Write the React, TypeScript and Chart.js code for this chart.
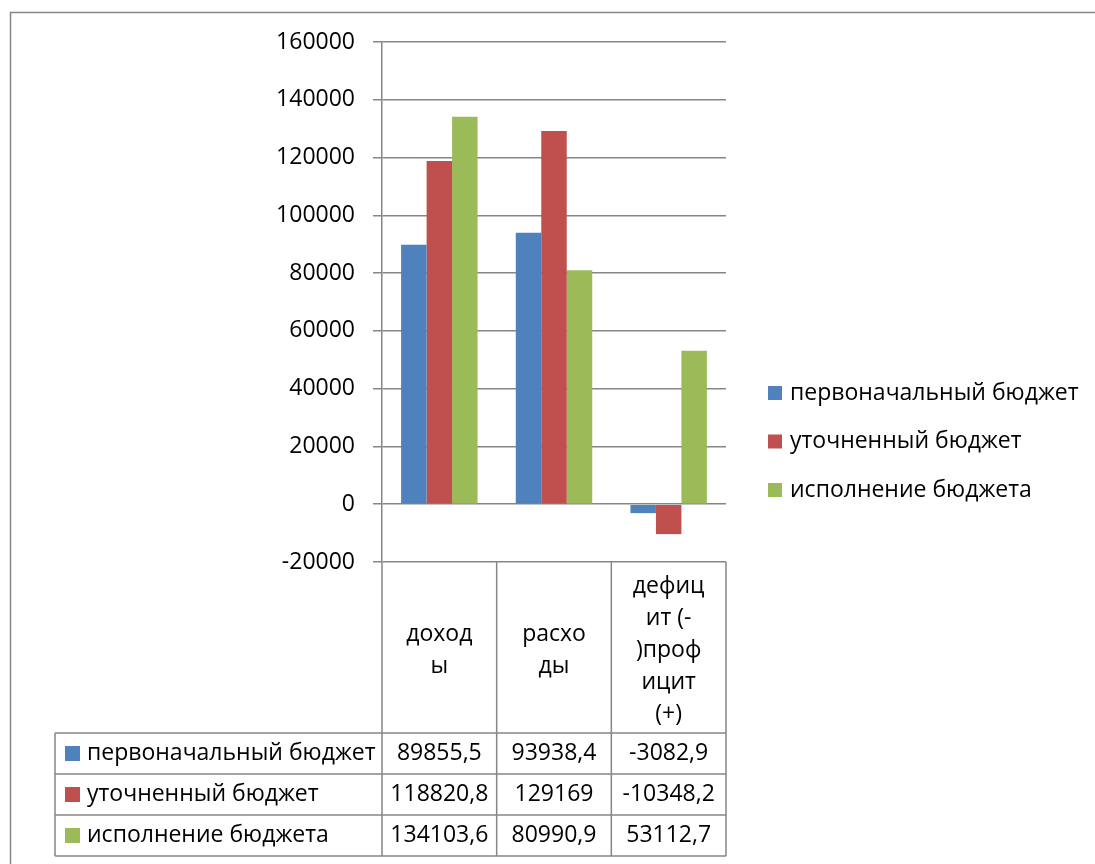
import React, { useEffect, useRef } from "react";
import { Chart, registerables } from "chart.js";

Chart.register(...registerables);

const categories = ["доходы", "расходы", "дефицит (-)профицит (+)"];
const categoryHeaderLines = [["доход", "ы"], ["расхо", "ды"], ["дефиц", "ит (-", ")проф", "ицит", "(+)"]];
const seriesNames = ["первоначальный бюджет", "уточненный бюджет", "исполнение бюджета"];
const initialBudget = [89855.5, 93938.4, -3082.9];
const revisedBudget = [118820.8, 129169, -10348.2];
const executedBudget = [134103.6, 80990.9, 53112.7];
const seriesColors = ["#4F81BD", "#C0504D", "#9BBB59"];
const yMin = -20000;
const yMax = 160000;
const yStep = 20000;

const FONT = "Open Sans";
const FS = 23;
const LINE = "#868686";

const fmt = (v: number) => String(v).replace(".", ",");

const tablePlugin = {
  id: "dataTable",
  afterDraw(chart: any) {
    const ctx = chart.ctx as CanvasRenderingContext2D;
    const area = chart.chartArea;
    const x = chart.scales.x;
    const n = categories.length;
    const colW = (area.right - area.left) / n;
    const headerTop = area.bottom;
    const rowTop = 733;
    const rowH = 41;
    const tableBottom = rowTop + rowH * seriesNames.length;
    const labelLeft = 55;
    ctx.save();
    // outer frame
    ctx.strokeStyle = LINE;
    ctx.lineWidth = 1.5;
    ctx.beginPath();
    ctx.moveTo(10.5, 900);
    ctx.lineTo(10.5, 12.5);
    ctx.lineTo(1100, 12.5);
    ctx.stroke();
    // table lines
    ctx.beginPath();
    for (let i = 0; i <= n; i++) {
      const lx = area.left + i * colW;
      ctx.moveTo(lx, headerTop);
      ctx.lineTo(lx, tableBottom);
    }
    ctx.moveTo(labelLeft, rowTop);
    ctx.lineTo(labelLeft, tableBottom);
    for (let r = 0; r <= seriesNames.length; r++) {
      const ly = rowTop + r * rowH;
      ctx.moveTo(labelLeft, ly);
      ctx.lineTo(area.right, ly);
    }
    ctx.stroke();
    // header text
    ctx.fillStyle = "#000";
    ctx.font = `${FS}px "${FONT}"`;
    ctx.textAlign = "center";
    ctx.textBaseline = "middle";
    const hMid = (headerTop + rowTop) / 2 + 3;
    const lh = 32;
    categoryHeaderLines.forEach((lines, i) => {
      const cx = x.getPixelForValue(i);
      const start = hMid - ((lines.length - 1) * lh) / 2;
      lines.forEach((t, j) => ctx.fillText(t, cx, start + j * lh));
    });
    // rows
    const allData = [initialBudget, revisedBudget, executedBudget];
    seriesNames.forEach((name, r) => {
      const cy = rowTop + r * rowH + rowH / 2;
      ctx.fillStyle = seriesColors[r];
      ctx.fillRect(65, cy - 7.5, 15, 15);
      ctx.fillStyle = "#000";
      ctx.textAlign = "left";
      ctx.fillText(name, 87, cy);
      ctx.textAlign = "center";
      allData[r].forEach((v, i) => {
        ctx.fillText(fmt(v), x.getPixelForValue(i), cy);
      });
    });
    // legend
    const legY = [393, 441.5, 490];
    seriesNames.forEach((name, r) => {
      ctx.fillStyle = seriesColors[r];
      ctx.fillRect(768, legY[r] - 7, 14, 14);
      ctx.fillStyle = "#000";
      ctx.textAlign = "left";
      ctx.fillText(name, 790, legY[r]);
    });
    ctx.restore();
  },
};

export default function App() {
  const ref = useRef<HTMLCanvasElement>(null);
  useEffect(() => {
    if (!ref.current) return;
    const chart = new Chart(ref.current, {
      type: "bar",
      data: {
        labels: categories,
        datasets: [initialBudget, revisedBudget, executedBudget].map((d, i) => ({
          label: seriesNames[i],
          data: d,
          backgroundColor: seriesColors[i],
          borderWidth: 0,
          barPercentage: 1,
          categoryPercentage: 3 / 4.5,
        })),
      },
      options: {
        animation: false,
        responsive: false,
        devicePixelRatio: 1,
        layout: { padding: { left: 262, top: 42, right: 1095 - 726, bottom: 864 - 562 } },
        plugins: { legend: { display: false }, tooltip: { enabled: false } },
        scales: {
          x: { display: false },
          y: {
            min: yMin,
            max: yMax,
            afterFit: (s: any) => {
              s.width = 120;
            },
            ticks: {
              stepSize: yStep,
              color: "#000",
              font: { family: FONT, size: FS },
              padding: 18,
              callback: (v: any) => String(v),
            },
            grid: { color: LINE, lineWidth: 1.5, tickLength: 9 },
            border: { color: LINE, width: 1.5 },
          },
        },
      },
      plugins: [tablePlugin],
    });
    return () => chart.destroy();
  }, []);
  return (
    <div style={{ position: "absolute", left: 0, top: 0, width: 1095, height: 864, background: "#fff" }}>
      <canvas ref={ref} width={1095} height={864} />
    </div>
  );
}
